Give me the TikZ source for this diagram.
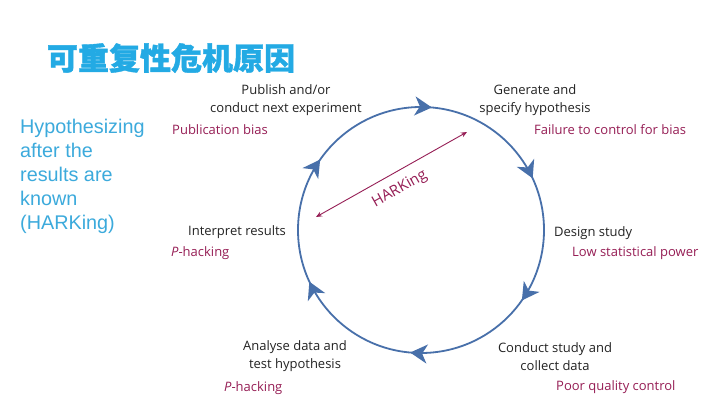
\documentclass[tikz,border=0pt]{standalone}
\usepackage{fontspec}
\setmainfont{Open Sans}
\newfontfamily\cjk[FakeBold=1.2]{Noto Sans CJK SC}
\newfontfamily\arialfont{Liberation Sans}
\usetikzlibrary{arrows.meta,decorations.markings}
\definecolor{cycleblue}{RGB}{72,112,170}
\definecolor{biasred}{RGB}{150,30,85}
\definecolor{titleblue}{RGB}{35,170,228}
\definecolor{harkblue}{RGB}{60,170,220}
\definecolor{stagegray}{RGB}{35,35,35}
\tikzset{cyctip/.tip={Stealth[length=17pt, width=19pt, inset=5pt]}}

\begin{document}
\begin{tikzpicture}[x=1pt, y=1pt,
  stage/.style={font=\fontsize{13}{18}\selectfont, text=stagegray, align=center, inner sep=0pt},
  bias/.style={font=\fontsize{13}{16}\selectfont, text=biasred, inner sep=0pt, anchor=west}]
  \fill[white] (0,0) rectangle (720,405);
  \useasboundingbox (0,0) rectangle (720,405);

  % title and side note
  \node (title) at (171,347) {\cjk\bfseries\fontsize{31}{31}\selectfont\color{titleblue}可重复性危机原因};
  \node[anchor=west, align=left, inner sep=0pt, text=harkblue, font=\arialfont\fontsize{19.8}{24}\selectfont] (harknote) at (20,228.5)
    {Hypothesizing\\after the\\results are\\known\\(HARKing)};

  % research cycle
  \draw[cycleblue, line width=1.8pt, postaction={decorate}, decoration={markings,
      mark=at position 0.014 with {\arrow{cyctip}},
      mark=at position 0.181 with {\arrow{cyctip}},
      mark=at position 0.347 with {\arrow{cyctip}},
      mark=at position 0.514 with {\arrow{cyctip}},
      mark=at position 0.681 with {\arrow{cyctip}},
      mark=at position 0.847 with {\arrow{cyctip}}}]
    (421,175) ++(90:123) arc[start angle=90, delta angle=-360, radius=123pt];

  % stages
  \node[stage] (publish) at (286,305) {Publish and/or\\conduct next experiment};
  \node[bias] (pubbias) at (172,275) {Publication bias};
  \node[stage] (generate) at (535,305) {Generate and\\specify hypothesis};
  \node[bias] (failbias) at (534,275) {Failure to control for bias};
  \node[stage, anchor=west] (interpret) at (188,173) {Interpret results};
  \node[bias] (phackA) at (171,152) {\textit{P}-hacking};
  \node[stage, anchor=west] (design) at (554,172) {Design study};
  \node[bias] (lowpower) at (572,152) {Low statistical power};
  \node[stage] (analyse) at (295,48.5) {Analyse data and\\test hypothesis};
  \node[bias] (phackB) at (224,17) {\textit{P}-hacking};
  \node[stage] (conduct) at (555,48.5) {Conduct study and\\collect data};
  \node[bias] (poorqc) at (556,18) {Poor quality control};

  % HARKing shortcut
  \coordinate (hkL) at (316,188);
  \coordinate (hkR) at (467,273);
  \draw[biasred, line width=0.9pt, {Stealth[length=6pt,width=5pt]}-{Stealth[length=6pt,width=5pt]}] (hkL) -- (hkR)
    node[midway, sloped, below=9pt, inner sep=0pt, text=biasred, font=\fontsize{15}{15}\selectfont] (harklbl) {HARKing};
\end{tikzpicture}
\end{document}
